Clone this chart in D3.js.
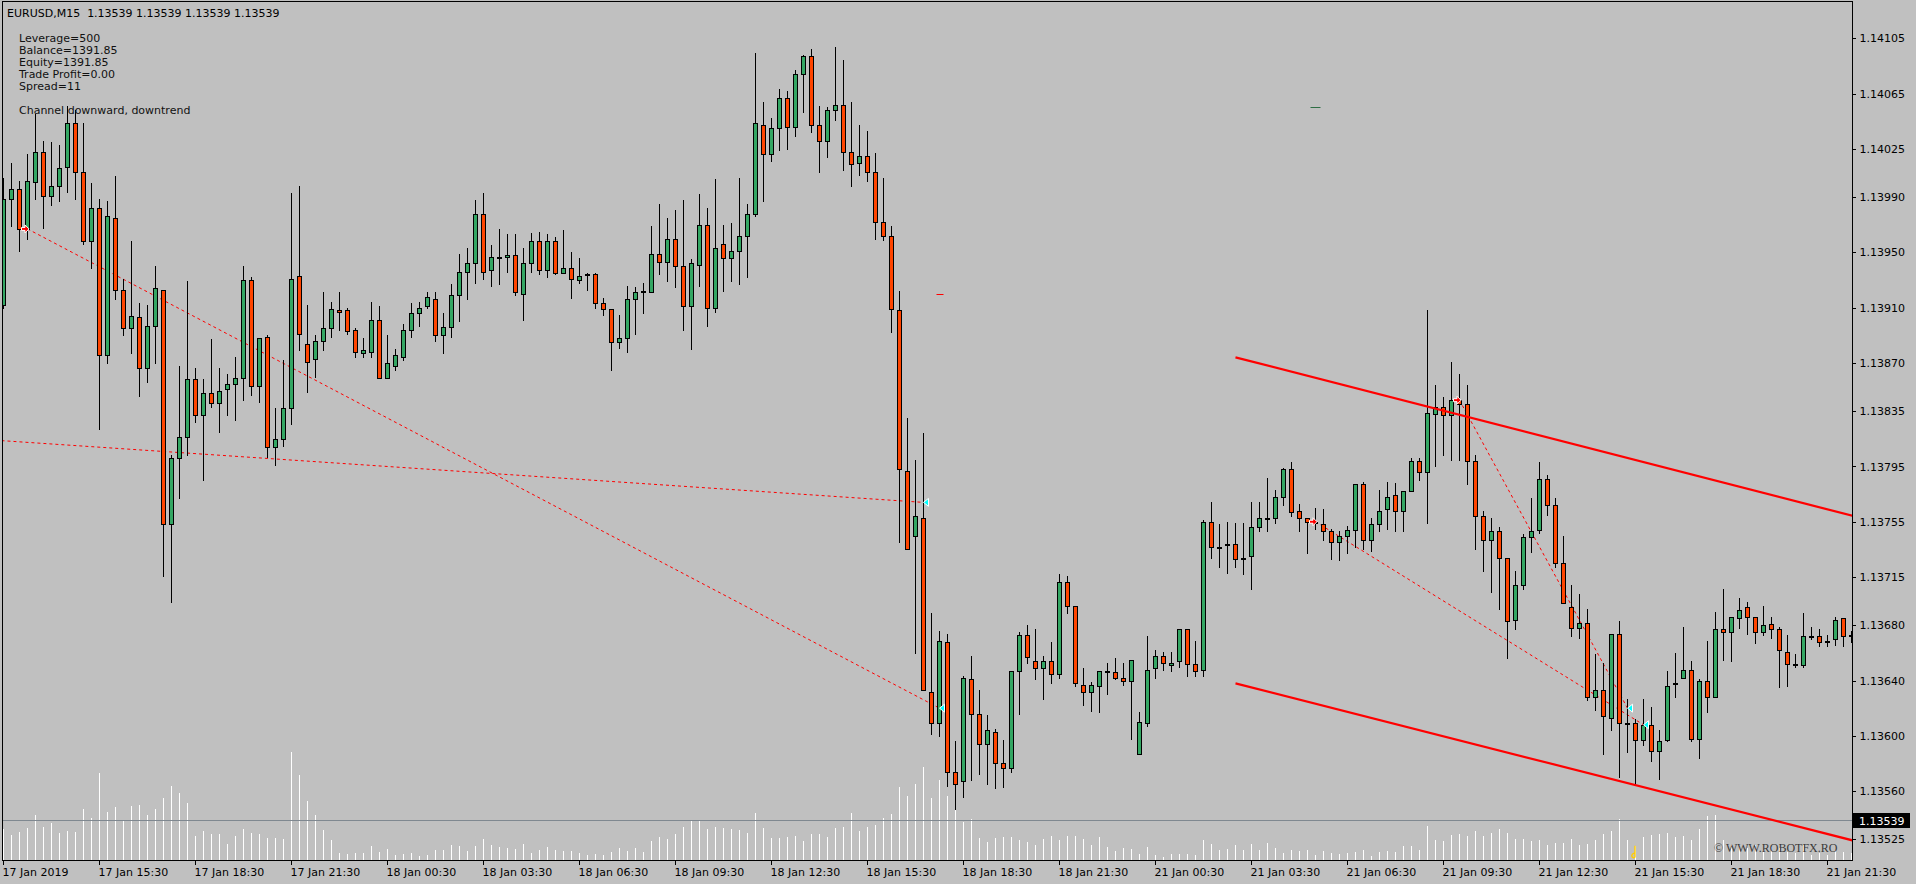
<!DOCTYPE html>
<html><head><meta charset="utf-8">
<script src="https://cdn.jsdelivr.net/npm/d3@7"></script>
<style>
html,body{margin:0;padding:0;background:#c0c0c0;overflow:hidden}
svg{display:block}
text{font-family:"DejaVu Sans",sans-serif;font-size:11px;white-space:pre}
</style></head>
<body><svg id="chart" width="1916" height="884"></svg>
<script>
// ---------------- DATA ----------------
const symbolTitle = "EURUSD,M15  1.13539 1.13539 1.13539 1.13539";
const infoLines = ["Leverage=500","Balance=1391.85","Equity=1391.85","Trade Profit=0.00","Spread=11","","Channel downward, downtrend"];
const copyright = "\u00A9 WWW.ROBOTFX.RO";

const opens = [
1.13912,1.13989,1.13996,1.13967,1.14001,1.14023,1.13991,1.13998,1.14012,1.14044,
1.14008,1.13958,1.13982,1.13876,1.13975,1.13923,1.13895,1.13903,1.13866,1.13897,
1.13923,1.13753,1.13801,1.13816,1.13858,1.13832,1.13848,1.13841,1.13851,1.13855,
1.13859,1.13930,1.13853,1.13889,1.13809,1.13815,1.13837,1.13933,1.13884,1.13873,
1.13886,1.13895,1.13908,1.13908,1.13894,1.13877,1.13878,1.13901,1.13859,1.13868,
1.13874,1.13894,1.13906,1.13911,1.13916,1.13890,1.13896,1.13919,1.13936,1.13942,
1.13978,1.13937,1.13947,1.13947,1.13948,1.13920,1.13942,1.13958,1.13937,1.13958,
1.13935,1.13939,1.13930,1.13934,1.13934,1.13913,1.13909,1.13885,1.13888,1.13916,
1.13922,1.13921,1.13949,1.13943,1.13960,1.13940,1.13911,1.13941,1.13970,1.13910,
1.13956,1.13946,1.13951,1.13962,1.13978,1.14042,1.14021,1.14040,1.14062,1.14041,
1.14079,1.14092,1.14042,1.14031,1.14053,1.14057,1.14023,1.14015,1.14020,1.14008,
1.13972,1.13962,1.13908,1.13792,1.13745,1.13758,1.13632,1.13609,1.13668,1.13574,
1.13567,1.13641,1.13616,1.13594,1.13603,1.13580,1.13577,1.13647,1.13673,1.13654,
1.13649,1.13654,1.13645,1.13711,1.13694,1.13637,1.13632,1.13636,1.13647,1.13646,
1.13642,1.13640,1.13587,1.13609,1.13649,1.13658,1.13651,1.13654,1.13677,1.13652,
1.13648,1.13755,1.13737,1.13738,1.13739,1.13728,1.13730,1.13751,1.13758,1.13758,
1.13773,1.13793,1.13763,1.13758,1.13755,1.13753,1.13748,1.13740,1.13745,1.13749,
1.13782,1.13742,1.13753,1.13764,1.13774,1.13763,1.13777,1.13799,1.13791,1.13833,
1.13838,1.13832,1.13843,1.13840,1.13799,1.13759,1.13742,1.13748,1.13729,1.13684,
1.13709,1.13744,1.13749,1.13786,1.13767,1.13725,1.13693,1.13678,1.13682,1.13628,
1.13633,1.13613,1.13674,1.13609,1.13609,1.13597,1.13608,1.13589,1.13597,1.13638,
1.13642,1.13648,1.13598,1.13640,1.13628,1.13677,1.13675,1.13685,1.13693,1.13686,
1.13675,1.13681,1.13677,1.13661,1.13652,1.13651,1.13672,1.13672,1.13669,1.13670,
1.13685,1.13672];
const highs = [
1.14004,1.14015,1.14002,1.14021,1.14050,1.14031,1.14030,1.14028,1.14056,1.14053,
1.14044,1.14000,1.13989,1.13987,1.14005,1.13931,1.13958,1.13913,1.13912,1.13940,
1.13923,1.13803,1.13868,1.13929,1.13866,1.13858,1.13887,1.13866,1.13862,1.13874,
1.13940,1.13932,1.13888,1.13890,1.13837,1.13872,1.13993,1.13998,1.13912,1.13890,
1.13921,1.13914,1.13921,1.13910,1.13895,1.13888,1.13914,1.13911,1.13890,1.13880,
1.13898,1.13913,1.13914,1.13921,1.13921,1.13906,1.13927,1.13949,1.13953,1.13988,
1.13993,1.13955,1.13967,1.13963,1.13963,1.13953,1.13964,1.13965,1.13963,1.13961,
1.13966,1.13950,1.13946,1.13935,1.13935,1.13917,1.13909,1.13905,1.13926,1.13925,
1.13928,1.13969,1.13985,1.13975,1.13981,1.13988,1.13945,1.13992,1.13982,1.14003,
1.13970,1.13971,1.14004,1.13985,1.14094,1.14059,1.14047,1.14068,1.14067,1.14082,
1.14093,1.14097,1.14056,1.14055,1.14099,1.14089,1.14059,1.14042,1.14038,1.14022,
1.14004,1.13969,1.13922,1.13830,1.13800,1.13819,1.13689,1.13676,1.13674,1.13596,
1.13643,1.13658,1.13633,1.13615,1.13605,1.13597,1.13647,1.13675,1.13680,1.13677,
1.13658,1.13668,1.13717,1.13716,1.13694,1.13649,1.13639,1.13647,1.13653,1.13656,
1.13653,1.13655,1.13617,1.13672,1.13662,1.13661,1.13661,1.13677,1.13677,1.13669,
1.13756,1.13769,1.13753,1.13755,1.13754,1.13754,1.13769,1.13769,1.13787,1.13778,
1.13794,1.13798,1.13768,1.13758,1.13765,1.13764,1.13750,1.13748,1.13752,1.13782,
1.13784,1.13758,1.13778,1.13784,1.13783,1.13777,1.13801,1.13801,1.13908,1.13854,
1.13845,1.13871,1.13862,1.13854,1.13803,1.13763,1.13758,1.13751,1.13729,1.13719,
1.13746,1.13772,1.13798,1.13789,1.13772,1.13745,1.13709,1.13703,1.13692,1.13659,
1.13653,1.13674,1.13683,1.13627,1.13612,1.13627,1.13621,1.13604,1.13647,1.13660,
1.13679,1.13654,1.13641,1.13669,1.13690,1.13706,1.13686,1.13700,1.13697,1.13686,
1.13694,1.13686,1.13679,1.13673,1.13659,1.13689,1.13679,1.13677,1.13673,1.13686,
1.13685,1.13676];
const lows = [
1.13910,1.13969,1.13951,1.13960,1.13989,1.13968,1.13984,1.13987,1.13994,1.13989,
1.13956,1.13939,1.13822,1.13870,1.13916,1.13890,1.13877,1.13846,1.13856,1.13870,
1.13716,1.13697,1.13772,1.13803,1.13827,1.13785,1.13838,1.13820,1.13832,1.13829,
1.13843,1.13847,1.13842,1.13802,1.13796,1.13810,1.13826,1.13879,1.13849,1.13860,
1.13879,1.13889,1.13894,1.13891,1.13874,1.13874,1.13874,1.13859,1.13859,1.13865,
1.13872,1.13889,1.13897,1.13910,1.13886,1.13877,1.13889,1.13900,1.13916,1.13928,
1.13931,1.13926,1.13927,1.13936,1.13919,1.13901,1.13936,1.13934,1.13932,1.13934,
1.13935,1.13917,1.13928,1.13923,1.13910,1.13905,1.13865,1.13881,1.13878,1.13891,
1.13906,1.13921,1.13934,1.13929,1.13925,1.13894,1.13880,1.13926,1.13897,1.13907,
1.13922,1.13929,1.13927,1.13932,1.13976,1.13987,1.14016,1.14024,1.14025,1.14034,
1.14052,1.14037,1.14008,1.14019,1.14046,1.14010,1.13998,1.14006,1.14002,1.13960,
1.13959,1.13892,1.13740,1.13735,1.13660,1.13633,1.13601,1.13600,1.13564,1.13547,
1.13556,1.13568,1.13572,1.13565,1.13562,1.13563,1.13574,1.13616,1.13653,1.13641,
1.13627,1.13638,1.13642,1.13689,1.13636,1.13622,1.13618,1.13617,1.13630,1.13641,
1.13637,1.13598,1.13587,1.13607,1.13642,1.13648,1.13647,1.13650,1.13643,1.13643,
1.13643,1.13729,1.13722,1.13718,1.13722,1.13717,1.13706,1.13748,1.13748,1.13754,
1.13767,1.13759,1.13748,1.13732,1.13750,1.13742,1.13728,1.13727,1.13732,1.13737,
1.13735,1.13734,1.13748,1.13750,1.13748,1.13748,1.13777,1.13785,1.13754,1.13795,
1.13803,1.13800,1.13800,1.13782,1.13735,1.13719,1.13704,1.13692,1.13656,1.13677,
1.13706,1.13733,1.13747,1.13760,1.13722,1.13696,1.13672,1.13671,1.13626,1.13619,
1.13587,1.13604,1.13570,1.13588,1.13565,1.13593,1.13582,1.13569,1.13596,1.13628,
1.13642,1.13596,1.13584,1.13617,1.13628,1.13655,1.13654,1.13678,1.13674,1.13667,
1.13673,1.13671,1.13635,1.13636,1.13650,1.13650,1.13670,1.13665,1.13665,1.13666,
1.13665,1.13668];
const closes = [
1.13989,1.13996,1.13967,1.14002,1.14023,1.13991,1.13998,1.14011,1.14044,1.14008,
1.13958,1.13982,1.13876,1.13976,1.13923,1.13895,1.13904,1.13866,1.13897,1.13924,
1.13753,1.13801,1.13816,1.13858,1.13832,1.13848,1.13841,1.13850,1.13855,1.13859,
1.13930,1.13853,1.13888,1.13809,1.13815,1.13837,1.13931,1.13891,1.13871,1.13886,
1.13895,1.13909,1.13907,1.13893,1.13878,1.13879,1.13901,1.13859,1.13870,1.13876,
1.13894,1.13906,1.13910,1.13918,1.13890,1.13896,1.13919,1.13936,1.13942,1.13978,
1.13936,1.13947,1.13947,1.13948,1.13921,1.13942,1.13958,1.13937,1.13958,1.13935,
1.13939,1.13931,1.13933,1.13934,1.13913,1.13909,1.13885,1.13888,1.13916,1.13921,
1.13921,1.13949,1.13943,1.13960,1.13940,1.13911,1.13942,1.13970,1.13910,1.13953,
1.13946,1.13951,1.13962,1.13978,1.14044,1.14021,1.14040,1.14062,1.14041,1.14079,
1.14092,1.14042,1.14031,1.14053,1.14057,1.14023,1.14014,1.14020,1.14008,1.13972,
1.13962,1.13909,1.13793,1.13735,1.13759,1.13633,1.13609,1.13669,1.13574,1.13565,
1.13642,1.13616,1.13594,1.13604,1.13580,1.13577,1.13647,1.13673,1.13657,1.13649,
1.13654,1.13645,1.13711,1.13694,1.13638,1.13632,1.13637,1.13647,1.13646,1.13642,
1.13640,1.13655,1.13610,1.13648,1.13658,1.13653,1.13653,1.13677,1.13652,1.13647,
1.13755,1.13737,1.13737,1.13739,1.13728,1.13729,1.13751,1.13758,1.13758,1.13773,
1.13793,1.13762,1.13758,1.13755,1.13754,1.13748,1.13740,1.13745,1.13749,1.13782,
1.13742,1.13753,1.13763,1.13773,1.13763,1.13777,1.13799,1.13791,1.13834,1.13838,
1.13832,1.13843,1.13840,1.13799,1.13759,1.13742,1.13748,1.13729,1.13683,1.13709,
1.13744,1.13748,1.13786,1.13767,1.13725,1.13696,1.13678,1.13682,1.13628,1.13633,
1.13614,1.13674,1.13609,1.13609,1.13597,1.13608,1.13589,1.13596,1.13636,1.13638,
1.13648,1.13598,1.13640,1.13628,1.13677,1.13675,1.13686,1.13691,1.13686,1.13675,
1.13680,1.13677,1.13662,1.13652,1.13651,1.13672,1.13672,1.13668,1.13669,1.13684,
1.13672,1.13673];
const volumes = [
307,250,280,320,450,330,370,270,293,280,
510,420,870,480,530,400,540,550,450,510,
620,740,670,570,240,290,260,260,160,240,
310,270,260,220,220,210,1080,850,590,450,
300,200,70,60,70,70,140,80,110,50,
60,70,40,50,100,100,150,140,90,140,
210,150,130,120,110,160,70,100,130,100,
90,90,70,50,60,50,80,120,90,120,
80,190,230,210,260,330,390,390,310,330,
320,310,300,270,470,320,220,220,230,240,
190,260,260,230,320,330,470,290,330,350,
420,460,730,640,765,930,620,800,640,510,
383,410,217,180,220,230,230,200,180,150,
210,240,200,240,240,210,150,230,130,90,
120,110,60,130,50,30,60,60,60,50,
200,160,100,110,150,100,160,100,170,120,
70,100,90,100,50,90,70,60,70,80,
100,40,80,90,80,140,140,100,340,200,
190,250,260,240,290,240,270,310,270,210,
210,190,200,150,170,170,210,150,160,200,
260,290,410,200,140,230,250,260,270,230,
240,200,310,440,450,200,150,130,120,150,
100,130,120,80,70,150,50,70,50,100,
80,70];

const timeTickBars = [0,12,24,36,48,60,72,84,96,108,120,132,144,156,168,180,192,204,216,228];
const timeLabels = ["17 Jan 2019","17 Jan 15:30","17 Jan 18:30","17 Jan 21:30","18 Jan 00:30","18 Jan 03:30","18 Jan 06:30","18 Jan 09:30","18 Jan 12:30","18 Jan 15:30","18 Jan 18:30","18 Jan 21:30","21 Jan 00:30","21 Jan 03:30","21 Jan 06:30","21 Jan 09:30","21 Jan 12:30","21 Jan 15:30","21 Jan 18:30","21 Jan 21:30"];
const priceTicks = [1.14105,1.14065,1.14025,1.13990,1.13950,1.13910,1.13870,1.13835,1.13795,1.13755,1.13715,1.13680,1.13640,1.13600,1.13560,1.13525];
const bidPrice = 1.13539;

// indicator objects (bar index, price)
const channelUpper = [[154,1.13874],[232,1.13758]];
const channelLower = [[154,1.13638],[232,1.13523]];
const dottedLines = [
  [[-1,1.13814],[115,1.13769]],
  [[3,1.13967],[117,1.13620]],
  [[164,1.13755],[205,1.13608]],
  [[182,1.13843],[203,1.13620]]
];
const sellArrows = [[3,1.13967],[164,1.13755],[182,1.13843]];
const closeMarks = [[115,1.13769],[117,1.13620],[203,1.13620],[205,1.13608]];
const greenDash = [164,1.14055];
const redDash = [117,1.13920];
const yellowMark = [204,1.13516];

// ---------------- DRAW ----------------
(function () {
const svg = d3.select("#chart");
const W = 1916, H = 884;
const pL = 2, pR = 1852, pT = 2, pB = 860;
const n = opens.length;

const x = d3.scaleLinear().domain([0, 231]).range([3.5, 1851.5]);
const y = d3.scaleLinear().domain([1.13525, 1.14105]).range([839.4, 38.3]);
const v = d3.scaleLinear().domain([0, 1000]).range([pB, pB - 100]);

svg.append("rect").attr("width", W).attr("height", H).attr("fill", "#c0c0c0");

svg.append("defs").append("clipPath").attr("id", "plotclip")
  .append("rect").attr("x", pL + 1).attr("y", pT + 1)
  .attr("width", pR - pL - 1).attr("height", pB - pT - 1);

const plot = svg.append("g").attr("clip-path", "url(#plotclip)");

// volumes
plot.append("g").attr("shape-rendering", "crispEdges")
  .selectAll("line").data(volumes).join("line")
  .attr("x1", (d, i) => x(i)).attr("x2", (d, i) => x(i))
  .attr("y1", pB).attr("y2", d => Math.round(v(d)))
  .attr("stroke", "#ffffff").attr("stroke-width", 1);

// bid line
const by = Math.round(y(bidPrice)) + 0.5;
plot.append("line")
  .attr("x1", pL).attr("x2", pR).attr("y1", by).attr("y2", by)
  .attr("stroke", "#7f8890").attr("stroke-width", 1);

// dotted lines
plot.append("g").selectAll("line").data(dottedLines).join("line")
  .attr("x1", d => x(d[0][0])).attr("y1", d => y(d[0][1]))
  .attr("x2", d => x(d[1][0])).attr("y2", d => y(d[1][1]))
  .attr("stroke", "#ff0000").attr("stroke-width", 1)
  .attr("stroke-dasharray", "3,3");

// candles
const idx = d3.range(n);
const cg = plot.append("g").attr("shape-rendering", "crispEdges");
cg.selectAll("line.wick").data(idx).join("line").attr("class", "wick")
  .attr("x1", i => x(i)).attr("x2", i => x(i))
  .attr("y1", i => Math.round(y(highs[i]))).attr("y2", i => Math.round(y(lows[i])) + 1)
  .attr("stroke", "#000").attr("stroke-width", 1);
cg.selectAll("rect.body").data(idx).join("rect").attr("class", "body")
  .attr("x", i => x(i) - 2)
  .attr("y", i => Math.round(y(Math.max(opens[i], closes[i]))) + 0.5)
  .attr("width", 4)
  .attr("height", i => Math.max(1, Math.round(y(Math.min(opens[i], closes[i]))) - Math.round(y(Math.max(opens[i], closes[i])))))
  .attr("fill", i => closes[i] > opens[i] ? "#34a663" : (closes[i] < opens[i] ? "#ff4500" : "#000"))
  .attr("stroke", "#000").attr("stroke-width", 1);

// channel lines
plot.append("g").selectAll("line").data([channelUpper, channelLower]).join("line")
  .attr("x1", d => x(d[0][0])).attr("y1", d => y(d[0][1]))
  .attr("x2", d => x(d[1][0])).attr("y2", d => y(d[1][1]))
  .attr("stroke", "#ff0000").attr("stroke-width", 2.2);

// small dashes
const gy = Math.round(y(greenDash[1])) + 0.5;
plot.append("line")
  .attr("x1", x(greenDash[0]) - 5).attr("x2", x(greenDash[0]) + 5)
  .attr("y1", gy).attr("y2", gy)
  .attr("stroke", "#2e6e44").attr("stroke-width", 1);
const ry = Math.round(y(redDash[1])) + 0.5;
plot.append("line")
  .attr("x1", x(redDash[0]) - 3).attr("x2", x(redDash[0]) + 4)
  .attr("y1", ry).attr("y2", ry)
  .attr("stroke", "#ff0000").attr("stroke-width", 1);

// sell arrows (pointing right, red with white edge)
plot.append("g").selectAll("path").data(sellArrows).join("path")
  .attr("d", d => {
    const px = x(d[0]) + 1, py = y(d[1]);
    return `M${px-7},${py-1.5} h3.5 v-2.5 l4,4 l-4,4 v-2.5 h-3.5 z`;
  })
  .attr("fill", "#ff0000").attr("stroke", "#ffffff").attr("stroke-width", 1);

// close marks (cyan triangles pointing left)
plot.append("g").selectAll("path").data(closeMarks).join("path")
  .attr("d", d => {
    const px = x(d[0]), py = y(d[1]);
    return `M${px},${py} l5,-4 v8 z`;
  })
  .attr("fill", "#00ffff").attr("stroke", "#ffffff").attr("stroke-width", 1);

// yellow mark
{
  const px = x(yellowMark[0]) - 1.5, py = y(yellowMark[1]);
  plot.append("path")
    .attr("d", `M${px+1},${py-6} L${px+1},${py+5} Q${px},${py+7} ${px-2},${py+5} Q${px-3},${py+2} ${px+1},${py+1}`)
    .attr("fill", "none").attr("stroke", "#ffcc00").attr("stroke-width", 1.4);
}

// copyright
svg.append("text").attr("x", 1714).attr("y", 852)
  .style("font-family", "'Liberation Serif', 'DejaVu Serif', serif").style("font-size", "12px")
  .attr("fill", "#3a3a3a").text(copyright);

// frame
svg.append("rect").attr("x", pL + 0.5).attr("y", pT - 0.5)
  .attr("width", pR - pL).attr("height", pB - pT + 1)
  .attr("fill", "none").attr("stroke", "#000").attr("stroke-width", 1)
  .attr("shape-rendering", "crispEdges");

// right price axis
const yAxis = d3.axisRight(y).tickValues(priceTicks).tickSize(3).tickPadding(4)
  .tickFormat(d3.format(".5f"));
const ya = svg.append("g").attr("transform", `translate(${pR + 0.5},0)`).call(yAxis);
ya.select(".domain").remove();
ya.selectAll("line").attr("stroke", "#000").attr("shape-rendering", "crispEdges");
ya.selectAll("text").attr("fill", "#000").attr("font-family", "DejaVu Sans").attr("font-size", 11);

// bid label
svg.append("rect").attr("x", pR + 1).attr("y", Math.round(y(bidPrice)) - 7)
  .attr("width", 57).attr("height", 15).attr("fill", "#000");
svg.append("text").attr("x", pR + 7).attr("y", Math.round(y(bidPrice)) + 4.5)
  .attr("fill", "#fff").text(d3.format(".5f")(bidPrice));

// bottom time axis
const xa = svg.append("g");
xa.selectAll("line").data(timeTickBars).join("line")
  .attr("x1", d => x(d)).attr("x2", d => x(d))
  .attr("y1", pB).attr("y2", pB + 5)
  .attr("stroke", "#000").attr("shape-rendering", "crispEdges");
xa.selectAll("text").data(timeTickBars).join("text")
  .attr("x", d => x(d) - 1).attr("y", 876)
  .attr("fill", "#000").text((d, i) => timeLabels[i]);

// header texts
svg.append("text").attr("x", 7).attr("y", 16.5).attr("fill", "#000")
  .attr("xml:space", "preserve").text(symbolTitle);
svg.append("g").selectAll("text").data(infoLines).join("text")
  .attr("x", 19).attr("y", (d, i) => 41.7 + i * 12)
  .attr("fill", "#111").text(d => d);
})();
</script>
</body></html>
